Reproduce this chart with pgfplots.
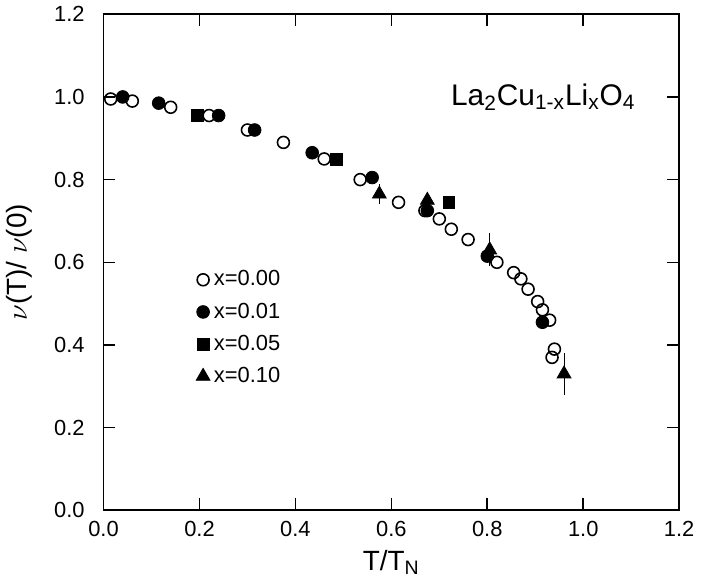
\documentclass[border=0pt]{standalone}
\usepackage{fontspec}
\setmainfont{Liberation Sans}
\usepackage{pgfplots}
\pgfplotsset{compat=1.18}
\begin{document}
\begin{tikzpicture}
\begin{axis}[
  scale only axis, width=289.5pt, height=249.5pt,
  xmin=0, xmax=1.2, ymin=0, ymax=1.2,
  xtick={0,0.2,...,1.2}, ytick={0,0.2,...,1.2},
  tick align=inside, tick style={line width=0.8pt, black}, major tick length=6pt,
  axis line style={line width=0.9pt},
  /pgf/number format/assume math mode=true,
  xticklabel style={yshift=-2pt,/pgf/number format/.cd,fixed,fixed zerofill,precision=1},
  yticklabel style={xshift=-6pt,/pgf/number format/.cd,fixed,fixed zerofill,precision=1},
  tick label style={font=\fontsize{11}{13}\selectfont},
  label style={font=\fontsize{14}{16}\selectfont},
  ylabel style={yshift=4pt},
  xlabel={T/T\textsubscript{N}}, ylabel={$\nu$(T)/ $\nu$(0)},
  legend style={draw=none, fill=none, at={(0.15,0.5)}, anchor=north west, font=\fontsize{11}{13}\selectfont, row sep=3pt},
  legend cell align=left,
]
\addplot[only marks, mark=o, mark size=3pt, thick] coordinates {
(0.015,0.995)(0.06,0.99)(0.14,0.975)(0.22,0.955)(0.30,0.92)(0.375,0.89)(0.46,0.85)(0.535,0.80)(0.615,0.745)(0.67,0.725)(0.70,0.705)(0.725,0.68)(0.76,0.655)(0.82,0.60)(0.855,0.575)(0.87,0.56)(0.885,0.535)(0.905,0.505)(0.915,0.485)(0.93,0.46)(0.94,0.39)(0.935,0.37)};
\addlegendentry{x=0.00}
\addplot[only marks, mark=*, mark size=3.2pt] coordinates {
(0.04,1.0)(0.115,0.985)(0.24,0.955)(0.315,0.92)(0.435,0.865)(0.56,0.805)(0.675,0.725)(0.80,0.615)(0.915,0.455)};
\addlegendentry{x=0.01}
\addplot[only marks, mark=square*, mark size=3pt] coordinates {
(0.195,0.955)(0.485,0.85)(0.72,0.745)};
\addlegendentry{x=0.05}
\addplot[only marks, mark=triangle*, mark size=4pt, error bars/.cd, y dir=both, y explicit, error mark=none, error bar style={thin}] coordinates {
(0.575,0.765) +- (0,0.025)
(0.675,0.75) +- (0,0.02)
(0.805,0.63) +- (0,0.04)
(0.96,0.33) +- (0,0.05)};
\addlegendentry{x=0.10}
\node[anchor=west, font=\fontsize{15}{17}\selectfont] at (axis cs:0.71,1.0) {La\textsubscript{2}Cu\textsubscript{1-x}Li\textsubscript{x}O\textsubscript{4}};
\end{axis}
\end{tikzpicture}
\end{document}
